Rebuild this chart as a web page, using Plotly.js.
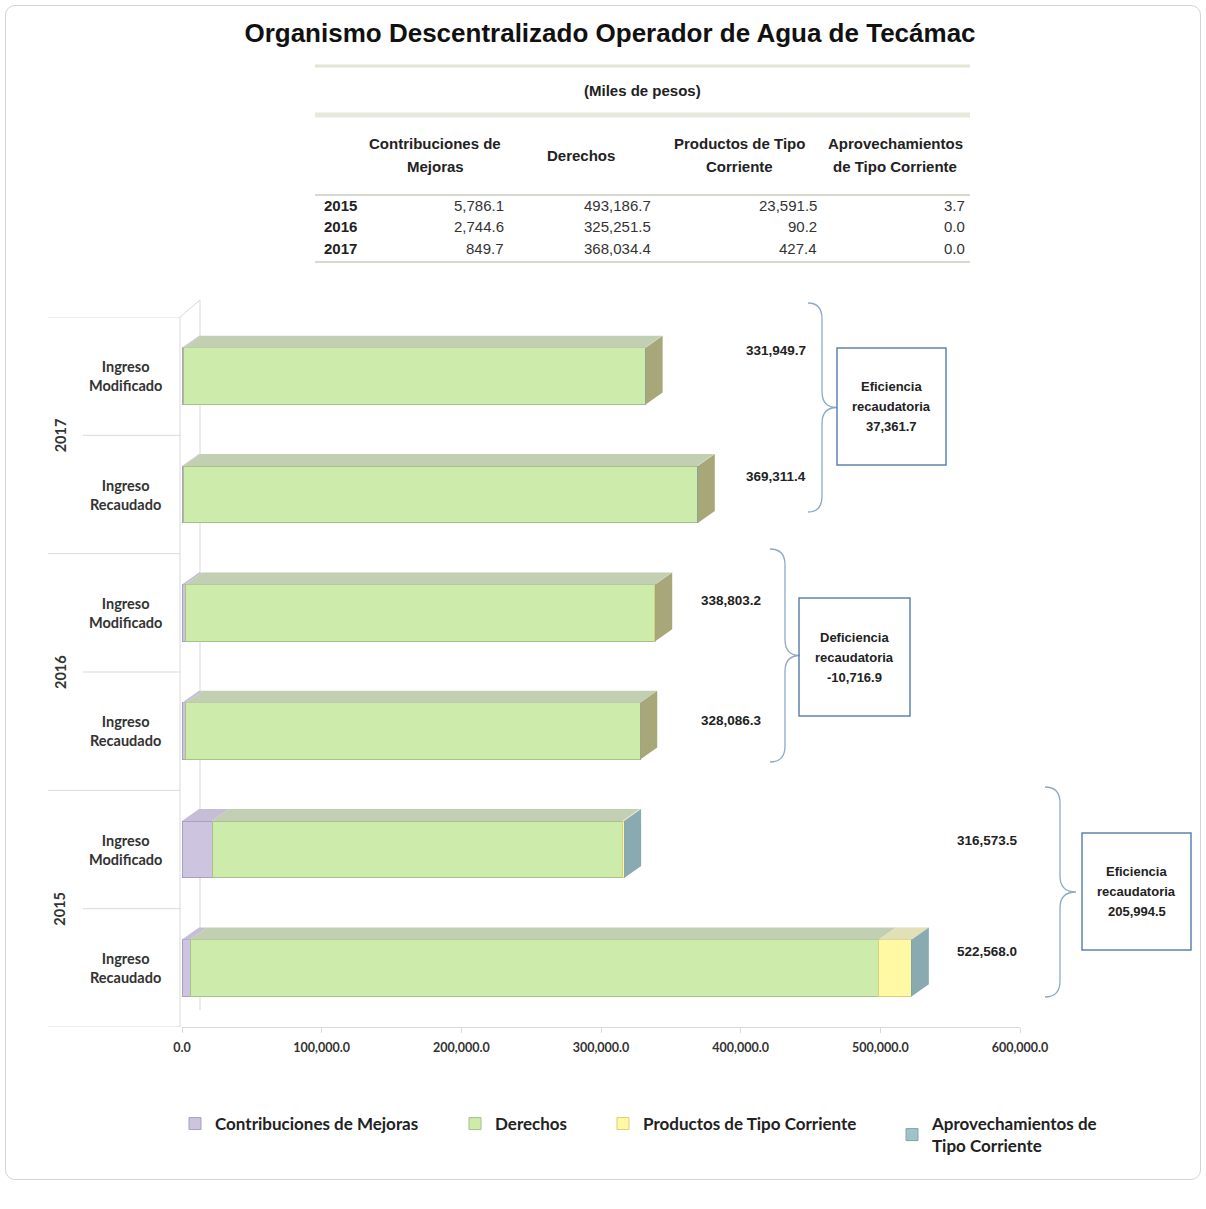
<!DOCTYPE html>
<html>
<head>
<meta charset="utf-8">
<script src="https://cdn.plot.ly/plotly-3.0.1.min.js"></script>
<style>
  html, body { margin: 0; padding: 0; background: #ffffff; }
  #frame { position: absolute; left: 5px; top: 5px; width: 1196px; height: 1175px;
           border: 1px solid #d4d4d4; border-radius: 10px; box-sizing: border-box; }
  #chart { position: absolute; left: 0; top: 0; width: 1206px; height: 1209px; }
</style>
</head>
<body>
<div id="frame"></div>
<div id="chart"></div>
<script>
// ---------------- DATA ----------------
const years = ["2015", "2016", "2017"];
const stages = ["Ingreso Modificado", "Ingreso Recaudado"];
const seriesNames = ["Contribuciones de Mejoras", "Derechos", "Productos de Tipo Corriente", "Aprovechamientos de Tipo Corriente"];
const tableHeaders = ["Contribuciones de<br>Mejoras", "Derechos", "Productos de Tipo<br>Corriente", "Aprovechamientos<br>de Tipo Corriente"];

// Ingreso Recaudado (from the table)
const recContribuciones = [5786.1, 2744.6, 849.7];
const recDerechos = [493186.7, 325251.5, 368034.4];
const recProductos = [23591.5, 90.2, 427.4];
const recAprovechamientos = [3.7, 0.0, 0.0];
// Ingreso Modificado (estimated split of the shown totals)
const modContribuciones = [21500.0, 2500.0, 1000.0];
const modDerechos = [293873.5, 336003.2, 330549.7];
const modProductos = [1100.0, 300.0, 400.0];
const modAprovechamientos = [100.0, 0.0, 0.0];
// Totals shown on the chart
const totalModificado = [316573.5, 338803.2, 331949.7];
const totalRecaudado = [522568.0, 328086.3, 369311.4];
const xTicks = [0, 100000, 200000, 300000, 400000, 500000, 600000];

// ---------------- STYLE ----------------
const frontColors = ["#cdc4e0", "#cdebaa", "#fff9a3", "#9fc3c8"];
const lineColors  = ["#a99fbf", "#a8c08a", "#d8d07a", "#7fa3a8"];
const topColors   = ["#c6bdd6", "#c3cfb2", "#e2e0b6", "#a9c2c4"];
const sideColors  = ["#ab9fc2", "#a3b58a", "#a8a77a", "#88aab0"];
const ARIAL = '"Liberation Sans", Arial, sans-serif';
const CAL = 'Lato, "Open Sans", sans-serif';

// plot area in page pixels
const W = 1206, H = 1209, L = 182, R = 1020, T = 317, B = 1027;
const px = x => (x - L) / (R - L);
const py = y => (B - y) / (B - T);
const fmt = v => v.toLocaleString('en-US', {minimumFractionDigits: 1, maximumFractionDigits: 1});

// rows, top to bottom
const rowKeys = [], rowYear = [], rowStage = [], rowVals = [[], [], [], []], rowTotals = [];
for (let yi = years.length - 1; yi >= 0; yi--) {
  stages.forEach(st => {
    rowKeys.push(years[yi] + " " + st);
    rowYear.push(years[yi]);
    rowStage.push(st);
    const mod = st === "Ingreso Modificado";
    rowVals[0].push(mod ? modContribuciones[yi] : recContribuciones[yi]);
    rowVals[1].push(mod ? modDerechos[yi] : recDerechos[yi]);
    rowVals[2].push(mod ? modProductos[yi] : recProductos[yi]);
    rowVals[3].push(mod ? modAprovechamientos[yi] : recAprovechamientos[yi]);
    rowTotals.push(mod ? totalModificado[yi] : totalRecaudado[yi]);
  });
}

const BARW = 0.48;
const legendNames = ["legend", "legend2", "legend3", "legend4"];
const traces = seriesNames.map((nm, s) => ({
  type: 'bar', orientation: 'h', name: s === 3 ? "Aprovechamientos de<br>Tipo Corriente" : nm,
  y: rowKeys, x: rowVals[s], width: BARW,
  marker: {color: frontColors[s], line: {color: lineColors[s], width: 1}},
  legend: legendNames[s], hoverinfo: 'x+name'
}));

// ---------------- SHAPES ----------------
const shapes = [];
const dxData = 17 / (R - L) * 600000;   // 3D depth horizontally (data units)
const dyCat = 12 / ((B - T) / 6);       // 3D depth vertically (category units)
rowKeys.forEach((k, r) => {
  let cum = 0, lastS = -1, lastX1 = 0;
  const yTop = r - BARW / 2, yBot = r + BARW / 2;
  for (let s = 0; s < 4; s++) {
    const v = rowVals[s][r];
    if (v <= 0) continue;
    const x0 = cum, x1 = cum + v;
    shapes.push({type: 'path', xref: 'x', yref: 'y', layer: 'above',
      path: `M ${x0},${yTop} L ${x1},${yTop} L ${x1 + dxData},${yTop - dyCat} L ${x0 + dxData},${yTop - dyCat} Z`,
      fillcolor: topColors[s], line: {width: 0}});
    cum = x1; lastS = s; lastX1 = x1;
  }
  if (lastS >= 0) {
    shapes.push({type: 'path', xref: 'x', yref: 'y', layer: 'above',
      path: `M ${lastX1},${yTop} L ${lastX1 + dxData},${yTop - dyCat} L ${lastX1 + dxData},${yBot - dyCat} L ${lastX1},${yBot} Z`,
      fillcolor: sideColors[lastS], line: {width: 0}});
  }
});

const gridC = '#d9d9d9';
// category separators
for (let i = 0; i <= rowKeys.length; i++) {
  const outer = i % 2 === 0;
  shapes.push({type: 'line', xref: 'paper', yref: 'y', x0: px(outer ? 48 : 83), x1: px(180),
    y0: i - 0.5, y1: i - 0.5, line: {color: gridC, width: 1}, layer: 'below'});
}
// back wall lines
shapes.push({type: 'line', xref: 'paper', yref: 'paper', x0: px(180), x1: px(180), y0: py(317), y1: py(1027), line: {color: gridC, width: 1}, layer: 'below'});
shapes.push({type: 'line', xref: 'paper', yref: 'paper', x0: px(200), x1: px(200), y0: py(300), y1: py(1010), line: {color: gridC, width: 1}, layer: 'below'});
shapes.push({type: 'line', xref: 'paper', yref: 'paper', x0: px(180), x1: px(200), y0: py(317), y1: py(300), line: {color: gridC, width: 1}, layer: 'below'});

// table lines
const tl = (y, c, w) => shapes.push({type: 'line', xref: 'paper', yref: 'paper', x0: px(315), x1: px(970), y0: py(y), y1: py(y), line: {color: c, width: w}});
tl(66, '#e1e5d1', 3);
tl(115, '#e6e9dc', 5);
tl(195, '#d6d9cc', 2);
tl(262, '#d6d9cc', 2);

// braces and boxes
const braceC = '#8fa9c7', boxC = '#5d83b0';
function brace(xL, xM, xT, yTop, yMid, yBot, r) {
  const P = (x, y) => `${px(x)},${py(y)}`;
  return `M ${P(xL, yTop)} Q ${P(xM, yTop)} ${P(xM, yTop + r)} L ${P(xM, yMid - r)} Q ${P(xM, yMid)} ${P(xT, yMid)} ` +
         `Q ${P(xM, yMid)} ${P(xM, yMid + r)} L ${P(xM, yBot - r)} Q ${P(xM, yBot)} ${P(xL, yBot)}`;
}
const braceGeom = [ // per year index (2015, 2016, 2017); label positions in page pixels
  {xL: 1045, xM: 1060, xT: 1076, yTop: 787, yBot: 997, box: [1082, 833, 1191, 950], lx: 987, lyMod: 840, lyRec: 951},
  {xL: 770, xM: 785, xT: 800, yTop: 549, yBot: 762, box: [799, 598, 910, 716], lx: 731, lyMod: 600, lyRec: 720},
  {xL: 808, xM: 822, xT: 837, yTop: 303, yBot: 512, box: [837, 348, 946, 465], lx: 776, lyMod: 350, lyRec: 476}
];
braceGeom.forEach(g => {
  const yMid = (g.yTop + g.yBot) / 2;
  shapes.push({type: 'path', xref: 'paper', yref: 'paper', path: brace(g.xL, g.xM, g.xT, g.yTop, yMid, g.yBot, 16),
    line: {color: braceC, width: 1.3}});
  shapes.push({type: 'rect', xref: 'paper', yref: 'paper', x0: px(g.box[0]), x1: px(g.box[2]), y0: py(g.box[1]), y1: py(g.box[3]),
    line: {color: boxC, width: 1.5}, fillcolor: 'rgba(0,0,0,0)'});
});

// ---------------- ANNOTATIONS ----------------
const ann = [];
const A = (o) => ann.push(Object.assign({xref: 'paper', yref: 'paper', showarrow: false, xanchor: 'center', yanchor: 'middle'}, o));

// table
A({x: px(642), y: py(90), text: '<b>(Miles de pesos)</b>', font: {family: ARIAL, size: 15, color: '#222'}});
const headerX = [435, 581, 739, 895];
tableHeaders.forEach((h, i) => {
  const lines = h.split('<br>');
  const ys = lines.length === 2 ? [143, 166] : [155];
  lines.forEach((ln, j) => A({x: px(headerX[i]), y: py(ys[j]), text: '<b>' + ln + '</b>',
    font: {family: ARIAL, size: 15, color: '#222'}}));
});
const tableCols = [recContribuciones, recDerechos, recProductos, recAprovechamientos];
const colRight = [505, 652, 818, 966];
const rowY = [205, 227, 249];
years.forEach((yr, i) => {
  A({x: px(322), y: py(rowY[i]), xanchor: 'left', text: '<b>' + yr + '</b>', font: {family: ARIAL, size: 15, color: '#222'}});
  tableCols.forEach((col, c) => A({x: px(colRight[c] + 1), y: py(rowY[i]), xanchor: 'right', text: fmt(col[i]),
    font: {family: ARIAL, size: 15, color: '#333'}}));
});

// y labels
rowKeys.forEach((k, r) => {
  const s = rowStage[r].split(' ');
  ann.push({xref: 'paper', yref: 'y', x: px(125), y: r, showarrow: false, align: 'center', xanchor: 'center', yanchor: 'middle',
    text: s[0] + '<br>' + s[1], font: {family: CAL, size: 14.5, color: '#333', weight: 'bold'}});
});
years.forEach((yr, yi) => {
  const r = (years.length - 1 - yi) * 2 + 0.5;
  ann.push({xref: 'paper', yref: 'y', x: px(60), y: r, showarrow: false, textangle: -90, xanchor: 'center', yanchor: 'middle',
    text: yr, font: {family: CAL, size: 14.5, color: '#333', weight: 'bold'}});
});

// totals and efficiency boxes
years.forEach((yr, yi) => {
  const g = braceGeom[yi];
  A({x: px(g.lx), y: py(g.lyMod), text: '<b>' + fmt(totalModificado[yi]) + '</b>', font: {family: ARIAL, size: 13.5, color: '#222'}});
  A({x: px(g.lx), y: py(g.lyRec), text: '<b>' + fmt(totalRecaudado[yi]) + '</b>', font: {family: ARIAL, size: 13.5, color: '#222'}});
  const diff = Math.round((totalRecaudado[yi] - totalModificado[yi]) * 10) / 10;
  const word = diff >= 0 ? 'Eficiencia' : 'Deficiencia';
  const cx = (g.box[0] + g.box[2]) / 2, cy = (g.box[1] + g.box[3]) / 2;
  [word, 'recaudatoria', fmt(diff)].forEach((ln, j) =>
    A({x: px(cx), y: py(cy + (j - 1) * 20), text: '<b>' + ln + '</b>', font: {family: ARIAL, size: 13, color: '#222'}}));
});

// ---------------- LAYOUT ----------------
const legFont = {family: CAL, size: 17, color: '#222', weight: 'bold'};
const mkLeg = (xp) => ({x: px(xp), y: py(1106), xanchor: 'left', yanchor: 'top', orientation: 'h',
  bgcolor: 'rgba(0,0,0,0)', font: legFont, itemwidth: 30, traceorder: 'normal'});

const layout = {
  width: W, height: H,
  margin: {l: L, r: W - R, t: T, b: H - B},
  paper_bgcolor: 'rgba(0,0,0,0)', plot_bgcolor: 'rgba(0,0,0,0)',
  title: {text: '<b>Organismo Descentralizado Operador de Agua de Tecámac</b>',
    xref: 'container', yref: 'container', x: 610 / W, y: 1 - 33 / H, xanchor: 'center', yanchor: 'middle',
    font: {family: ARIAL, size: 26, color: '#111'}},
  barmode: 'stack',
  bargap: 0.5,
  showlegend: true,
  legend: mkLeg(175), legend2: mkLeg(455), legend3: mkLeg(603), legend4: mkLeg(892),
  xaxis: {range: [0, 600000], tickvals: xTicks, tickformat: ',.1f', showgrid: false, zeroline: false,
    showline: true, linecolor: gridC, linewidth: 1, ticks: 'outside', ticklen: 5, tickcolor: gridC,
    ticklabelstandoff: 4,
    tickfont: {family: CAL, size: 12.5, color: '#333', weight: 'bold'}, fixedrange: true},
  yaxis: {type: 'category', categoryorder: 'array', categoryarray: rowKeys, range: [rowKeys.length - 0.5, -0.5],
    showticklabels: false, showgrid: false, zeroline: false, showline: false, ticks: '', fixedrange: true},
  shapes: shapes, annotations: ann
};

Plotly.newPlot('chart', traces, layout, {displayModeBar: false, staticPlot: true});
</script>
</body>
</html>
